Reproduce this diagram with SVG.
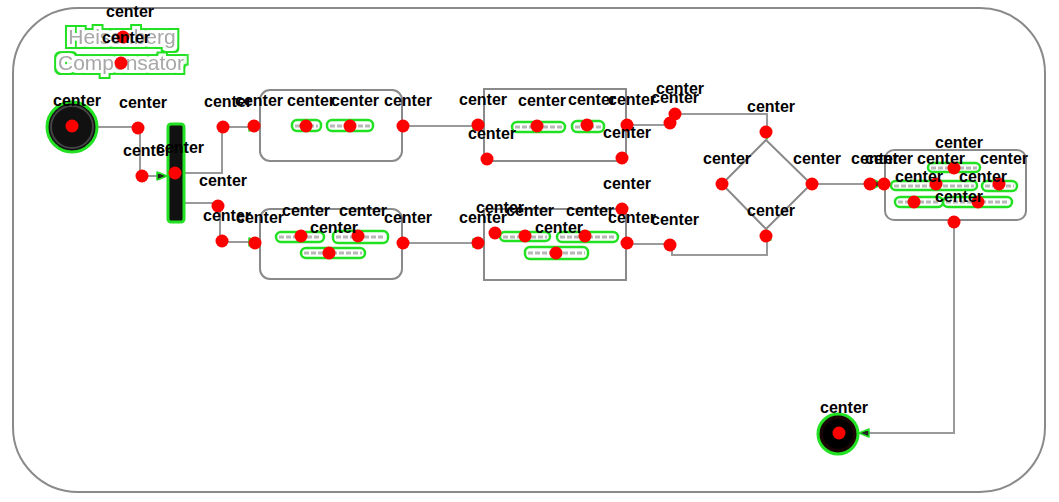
<svg xmlns="http://www.w3.org/2000/svg" width="1059" height="502" viewBox="0 0 1059 502">
<defs>
<style>
.frame{fill:#fff;stroke:#8a8a8a;stroke-width:2}
.box{fill:#fff;stroke:#8a8a8a;stroke-width:2}
.edge{fill:none;stroke:#9a9a9a;stroke-width:2}
.pill{fill:none;stroke:#22e022;stroke-width:2.5}
.ink{stroke:#b8b8b8;stroke-width:3;stroke-dasharray:5 2}
.dot{fill:#ff0000}
.lbl{font-family:"Liberation Sans",Arial,sans-serif;font-size:16px;font-weight:bold;fill:#000;text-anchor:middle}
.title{font-family:"Liberation Sans",Arial,sans-serif;font-size:21px;fill:#a8a8a8;text-anchor:middle;filter:url(#ring)}
</style>
<filter id="ring" x="-15%" y="-40%" width="130%" height="180%">
<feMorphology in="SourceAlpha" operator="dilate" radius="5" result="big"/>
<feMorphology in="SourceAlpha" operator="dilate" radius="3" result="small"/>
<feComposite in="big" in2="small" operator="out" result="band"/>
<feFlood flood-color="#22e022"/>
<feComposite in2="band" operator="in" result="green"/>
<feMerge><feMergeNode in="green"/><feMergeNode in="SourceGraphic"/></feMerge>
</filter>
<marker id="arr" viewBox="-2 -2 14 12" refX="10" refY="4" markerWidth="14" markerHeight="12" markerUnits="userSpaceOnUse" orient="auto">
<path d="M0,0 L10,4 L0,8 z" fill="#222" stroke="#22e022" stroke-width="1.5" stroke-linejoin="round"/>
</marker>
</defs>
<rect class="frame" x="13" y="8" width="1032" height="484" rx="65"/>
<g id="title">
<text class="title" x="122" y="44">Heisenberg</text>
<text class="title" x="121" y="70">Compensator</text>
</g>
<g id="connectors">
<path class="edge" d="M97,127 H140 V176 H167" marker-end="url(#arr)"/>
<path class="edge" d="M184,173 H222 V127 H259" marker-end="url(#arr)"/>
<path class="edge" d="M184,203 H220 V242 H259" marker-end="url(#arr)"/>
<path class="edge" d="M403,126 H483" marker-end="url(#arr)"/>
<path class="edge" d="M403,243 H483" marker-end="url(#arr)"/>
<path class="edge" d="M627,125 H670 V114 H767 V139" marker-end="url(#arr)"/>
<path class="edge" d="M627,244 H672 V255 H767 V230" marker-end="url(#arr)"/>
<path class="edge" d="M812,184 H884" marker-end="url(#arr)"/>
<path class="edge" d="M954,221 V433 H859" marker-end="url(#arr)"/>
</g>
<g id="initial">
<circle cx="72" cy="127" r="25" fill="#111" stroke="#22e022" stroke-width="3"/>
<circle cx="72" cy="127" r="21" fill="none" stroke="#444" stroke-width="2"/>
</g>
<g id="fork">
<rect x="168" y="124" width="16" height="98" rx="3" fill="#111" stroke="#22e022" stroke-width="3"/>
</g>
<g id="action1">
<rect class="box" x="260" y="90" width="142" height="71" rx="10"/>
<line class="ink" x1="295" y1="126" x2="318" y2="126"/><rect class="pill" x="292" y="120" width="29" height="11" rx="5"/>
<line class="ink" x1="330" y1="126" x2="370" y2="126"/><rect class="pill" x="327" y="120" width="46" height="11" rx="5"/>
</g>
<g id="action2">
<rect class="box" x="484" y="89" width="142" height="72"/>
<line class="ink" x1="515" y1="127" x2="562" y2="127"/><rect class="pill" x="512" y="122" width="53" height="10" rx="5"/>
<line class="ink" x1="575" y1="127" x2="601" y2="127"/><rect class="pill" x="572" y="121" width="32" height="11" rx="5"/>
</g>
<g id="action3">
<rect class="box" x="260" y="209" width="142" height="70" rx="10"/>
<line class="ink" x1="279" y1="237" x2="321" y2="237"/><rect class="pill" x="276" y="232" width="48" height="10" rx="5"/>
<line class="ink" x1="336" y1="237" x2="385" y2="237"/><rect class="pill" x="333" y="231" width="55" height="12" rx="5"/>
<line class="ink" x1="304" y1="253" x2="362" y2="253"/><rect class="pill" x="301" y="248" width="64" height="10" rx="5"/>
</g>
<g id="action4">
<rect class="box" x="484" y="209" width="142" height="71"/>
<line class="ink" x1="503" y1="237" x2="547" y2="237"/><rect class="pill" x="500" y="232" width="50" height="9" rx="4.5"/>
<line class="ink" x1="560" y1="237" x2="615" y2="237"/><rect class="pill" x="557" y="232" width="61" height="10" rx="5"/>
<line class="ink" x1="528" y1="253" x2="585" y2="253"/><rect class="pill" x="525" y="247" width="63" height="12" rx="5"/>
</g>
<g id="merge">
<path d="M766,140 L811,184 L766,229 L722,184 Z" fill="#fff" stroke="#8a8a8a" stroke-width="2"/>
</g>
<g id="action5">
<rect class="box" x="885" y="150" width="141" height="70" rx="9"/>
<line class="ink" x1="931" y1="168" x2="977" y2="168"/><rect class="pill" x="928" y="163" width="52" height="9" rx="4.5"/>
<line class="ink" x1="894" y1="186" x2="974" y2="186"/><rect class="pill" x="891" y="181" width="86" height="9" rx="4.5"/>
<line class="ink" x1="985" y1="186" x2="1014" y2="186"/><rect class="pill" x="982" y="181" width="35" height="10" rx="5"/>
<line class="ink" x1="898" y1="202" x2="940" y2="202"/><rect class="pill" x="895" y="197" width="48" height="10" rx="5"/>
<line class="ink" x1="946" y1="202" x2="1009" y2="202"/><rect class="pill" x="943" y="197" width="69" height="10" rx="5"/>
</g>
<g id="final">
<circle cx="838" cy="434" r="20" fill="#1a0505" stroke="#22e022" stroke-width="3"/>
<circle cx="838" cy="434" r="15" fill="#000"/>
</g>
<g id="markers">
<circle class="dot" cx="123" cy="37" r="6.5"/><text class="lbl" x="130" y="17">center</text>
<circle class="dot" cx="121" cy="63" r="6.5"/><text class="lbl" x="126" y="43">center</text>
<circle class="dot" cx="72" cy="126" r="6.5"/><text class="lbl" x="77" y="106">center</text>
<circle class="dot" cx="138" cy="128" r="6.5"/><text class="lbl" x="143" y="108">center</text>
<circle class="dot" cx="142" cy="176" r="6.5"/><text class="lbl" x="147" y="156">center</text>
<circle class="dot" cx="175" cy="173" r="6.5"/><text class="lbl" x="180" y="153">center</text>
<circle class="dot" cx="223" cy="127" r="6.5"/><text class="lbl" x="228" y="107">center</text>
<circle class="dot" cx="254" cy="126" r="6.5"/><text class="lbl" x="259" y="106">center</text>
<circle class="dot" cx="218" cy="206" r="6.5"/><text class="lbl" x="223" y="186">center</text>
<circle class="dot" cx="222" cy="241" r="6.5"/><text class="lbl" x="227" y="221">center</text>
<circle class="dot" cx="255" cy="243" r="6.5"/><text class="lbl" x="260" y="223">center</text>
<circle class="dot" cx="306" cy="126" r="6.5"/><text class="lbl" x="311" y="106">center</text>
<circle class="dot" cx="350" cy="126" r="6.5"/><text class="lbl" x="355" y="106">center</text>
<circle class="dot" cx="403" cy="126" r="6.5"/><text class="lbl" x="408" y="106">center</text>
<circle class="dot" cx="478" cy="125" r="6.5"/><text class="lbl" x="483" y="105">center</text>
<circle class="dot" cx="537" cy="126" r="6.5"/><text class="lbl" x="542" y="106">center</text>
<circle class="dot" cx="587" cy="125" r="6.5"/><text class="lbl" x="592" y="105">center</text>
<circle class="dot" cx="627" cy="125" r="6.5"/><text class="lbl" x="632" y="105">center</text>
<circle class="dot" cx="487" cy="159" r="6.5"/><text class="lbl" x="492" y="139">center</text>
<circle class="dot" cx="622" cy="158" r="6.5"/><text class="lbl" x="627" y="138">center</text>
<circle class="dot" cx="675" cy="114" r="6.5"/><text class="lbl" x="680" y="94">center</text>
<circle class="dot" cx="670" cy="123" r="6.5"/><text class="lbl" x="675" y="103">center</text>
<circle class="dot" cx="301" cy="236" r="6.5"/><text class="lbl" x="306" y="216">center</text>
<circle class="dot" cx="358" cy="236" r="6.5"/><text class="lbl" x="363" y="216">center</text>
<circle class="dot" cx="329" cy="253" r="6.5"/><text class="lbl" x="334" y="233">center</text>
<circle class="dot" cx="403" cy="243" r="6.5"/><text class="lbl" x="408" y="223">center</text>
<circle class="dot" cx="478" cy="243" r="6.5"/><text class="lbl" x="483" y="223">center</text>
<circle class="dot" cx="495" cy="233" r="6.5"/><text class="lbl" x="500" y="213">center</text>
<circle class="dot" cx="525" cy="236" r="6.5"/><text class="lbl" x="530" y="216">center</text>
<circle class="dot" cx="585" cy="236" r="6.5"/><text class="lbl" x="590" y="216">center</text>
<circle class="dot" cx="556" cy="253" r="6.5"/><text class="lbl" x="559" y="233">center</text>
<circle class="dot" cx="622" cy="209" r="6.5"/><text class="lbl" x="627" y="189">center</text>
<circle class="dot" cx="627" cy="243" r="6.5"/><text class="lbl" x="632" y="223">center</text>
<circle class="dot" cx="670" cy="245" r="6.5"/><text class="lbl" x="675" y="225">center</text>
<circle class="dot" cx="766" cy="132" r="6.5"/><text class="lbl" x="771" y="112">center</text>
<circle class="dot" cx="722" cy="184" r="6.5"/><text class="lbl" x="727" y="164">center</text>
<circle class="dot" cx="812" cy="184" r="6.5"/><text class="lbl" x="817" y="164">center</text>
<circle class="dot" cx="766" cy="236" r="6.5"/><text class="lbl" x="771" y="216">center</text>
<circle class="dot" cx="870" cy="184" r="6.5"/><text class="lbl" x="875" y="164">center</text>
<circle class="dot" cx="884" cy="184" r="6.5"/><text class="lbl" x="889" y="164">center</text>
<circle class="dot" cx="954" cy="168" r="6.5"/><text class="lbl" x="959" y="148">center</text>
<circle class="dot" cx="936" cy="184" r="6.5"/><text class="lbl" x="941" y="164">center</text>
<circle class="dot" cx="999" cy="184" r="6.5"/><text class="lbl" x="1004" y="164">center</text>
<circle class="dot" cx="914" cy="202" r="6.5"/><text class="lbl" x="919" y="182">center</text>
<circle class="dot" cx="978" cy="202" r="6.5"/><text class="lbl" x="983" y="182">center</text>
<circle class="dot" cx="954" cy="222" r="6.5"/><text class="lbl" x="959" y="202">center</text>
<circle class="dot" cx="839" cy="433" r="6.5"/><text class="lbl" x="844" y="413">center</text>
</g>
</svg>
